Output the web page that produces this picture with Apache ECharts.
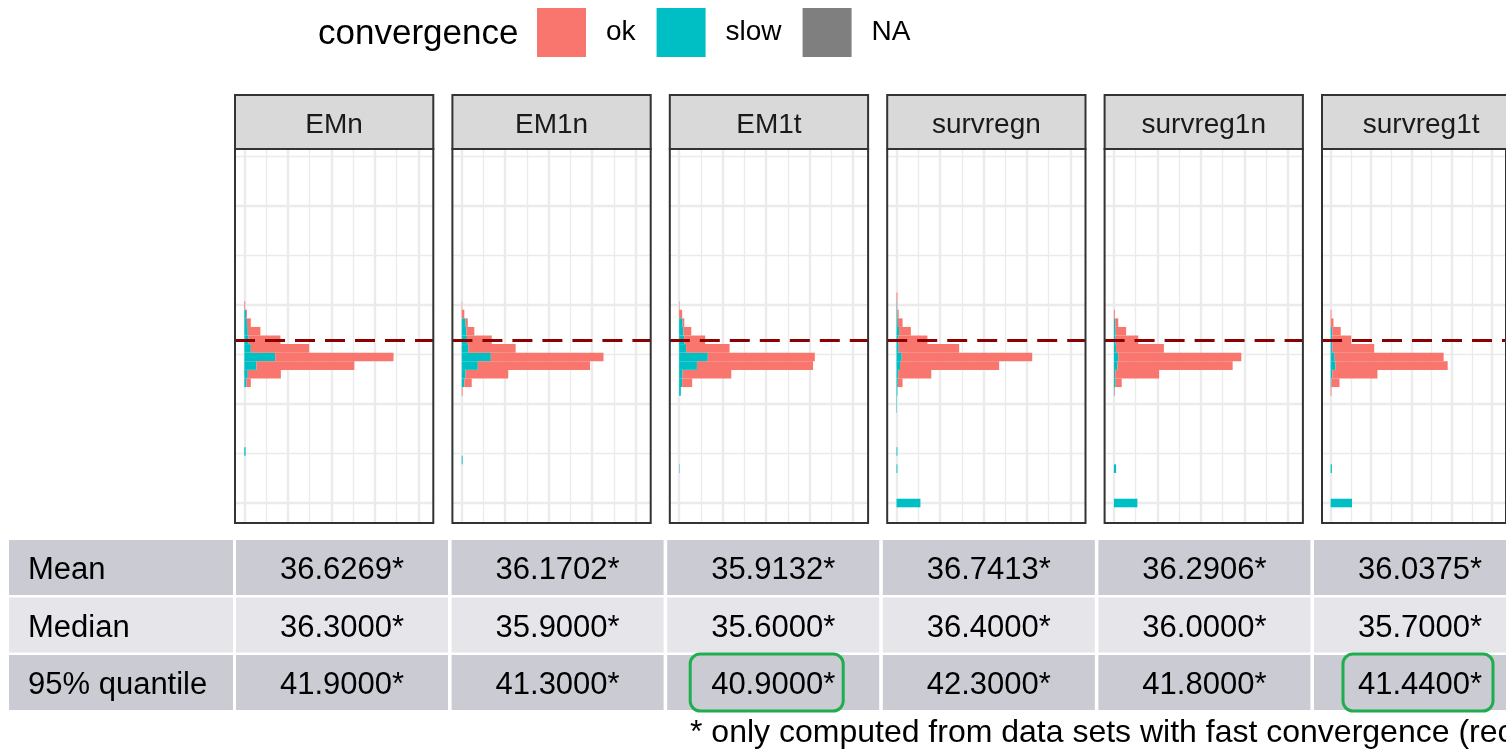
<!DOCTYPE html>
<html>
<head>
<meta charset="utf-8">
<script src="https://cdn.jsdelivr.net/npm/echarts@6/dist/echarts.min.js"></script>
<style>
  html, body { margin: 0; padding: 0; background: #ffffff; }
  #chart { width: 1506px; height: 749px; }
</style>
</head>
<body>
<div id="chart"></div>
<script>
// ---- data -------------------------------------------------------------
const panelNames = ['EMn', 'EM1n', 'EM1t', 'survregn', 'survreg1n', 'survreg1t'];

// histogram bins of the estimate (mid-points), all bins share one width
const binWidth = 2.17;
const binMids = [0.00, 8.68, 10.85, 13.02, 23.87, 26.04, 28.21, 30.38, 32.55,
                 34.72, 36.89, 39.06, 41.23, 43.40, 45.57, 47.74, 49.91, 52.08];

// number of data sets per bin (aligned with binMids)
const okEMn         = [0, 0, 0, 0, 0, 0, 0, 10, 76, 225, 272, 134, 73, 29, 9, 2, 2, 0];
const slowEMn       = [0, 0, 0, 3, 0, 0, 0, 5, 8, 28, 71, 15, 10, 8, 6, 4, 0, 0];
const okEM1n        = [0, 0, 0, 0, 0, 0, 2, 17, 98, 258, 259, 109, 57, 18, 5, 6, 1, 0];
const slowEM1n      = [0, 0, 2, 0, 0, 0, 0, 6, 9, 37, 67, 15, 12, 11, 9, 0, 0, 0];
const okEM1t        = [0, 0, 0, 0, 0, 0, 0, 23, 112, 267, 246, 100, 48, 18, 4, 7, 1, 0];
const slowEM1t      = [0, 1, 0, 0, 0, 0, 4, 7, 8, 41, 66, 16, 12, 10, 8, 0, 0, 0];
const okSurvregn    = [0, 0, 0, 0, 0, 0, 0, 11, 76, 228, 300, 139, 67, 27, 11, 3, 1, 2];
const slowSurvregn  = [55, 2, 0, 2, 1, 1, 2, 3, 4, 8, 12, 5, 4, 6, 3, 2, 1, 0];
const okSurvreg1n   = [0, 0, 0, 0, 0, 0, 1, 14, 101, 265, 283, 110, 52, 24, 7, 2, 0, 0];
const slowSurvreg1n = [54, 5, 0, 0, 0, 0, 1, 4, 3, 8, 10, 5, 4, 4, 3, 0, 0, 0];
const okSurvreg1t   = [0, 0, 0, 0, 0, 0, 2, 20, 112, 278, 270, 104, 47, 21, 7, 2, 0, 0];
const slowSurvreg1t = [53, 3, 0, 0, 0, 0, 0, 2, 4, 12, 10, 4, 4, 4, 0, 0, 0, 0];

// reference value drawn as the dashed line
const trueValue = 41.1;

// panel grid breaks
const xMajorBreaks = [0, 100, 200, 300, 400];
const xMinorBreaks = [50, 150, 250, 350];
const yMajorBreaks = [0, 25, 50, 75];
const yMinorBreaks = [12.5, 37.5, 62.5, 87.5];

// summary table
const rowLabels  = ['Mean', 'Median', '95% quantile'];
const meanVals   = ['36.6269*', '36.1702*', '35.9132*', '36.7413*', '36.2906*', '36.0375*'];
const medianVals = ['36.3000*', '35.9000*', '35.6000*', '36.4000*', '36.0000*', '35.7000*'];
const q95Vals    = ['41.9000*', '41.3000*', '40.9000*', '42.3000*', '41.8000*', '41.4400*'];
const footnote   = '* only computed from data sets with fast convergence (rec';

// ---- layout / style -----------------------------------------------------
const okCounts   = [okEMn, okEM1n, okEM1t, okSurvregn, okSurvreg1n, okSurvreg1t];
const slowCounts = [slowEMn, slowEM1n, slowEM1t, slowSurvregn, slowSurvreg1n, slowSurvreg1t];
const tableRows  = [meanVals, medianVals, q95Vals];

const FONT = "'Liberation Sans', Arial, Helvetica, sans-serif";
const COL_OK = '#F8766D', COL_SLOW = '#00BFC4', COL_NA = '#7F7F7F';
const GRIDLINE = '#EBEBEB', BORDER = '#333333';

const panel = { left0: 235, step: 217.4, width: 198.3, top: 149, height: 374,
                stripTop: 95, stripHeight: 54 };
const xRange = [-21.4, 434.5];
const yRange = [-5.05, 89.44];

const table = { labelLeft: 9, labelWidth: 224, colLeft0: 236, colStep: 215.6, colWidth: 212,
                rowTops: [540, 597.5, 655], rowHeight: 55, textShift: 3,
                rowFill: ['#CACBD3', '#E5E5EA', '#CACBD3'] };
const highlightBoxes = [ { row: 2, col: 2, dx: 23, w: 153 }, { row: 2, col: 5, dx: 29, w: 150 } ];

// ---- build ---------------------------------------------------------------
function renderBin(params, api) {
  const mid = api.value(0), x0 = api.value(1), x1 = api.value(2);
  const a = api.coord([x0, mid + binWidth / 2]);
  const b = api.coord([x1, mid - binWidth / 2]);
  return {
    type: 'rect',
    shape: { x: a[0], y: a[1], width: b[0] - a[0], height: b[1] - a[1] },
    style: { fill: api.visual('color') }
  };
}

const grids = [], xAxes = [], yAxes = [], series = [], graphics = [];

const gridLineData = []
  .concat(xMajorBreaks.map(v => ({ xAxis: v, lineStyle: { width: 2.4 } })))
  .concat(xMinorBreaks.map(v => ({ xAxis: v, lineStyle: { width: 1.3 } })))
  .concat(yMajorBreaks.map(v => ({ yAxis: v, lineStyle: { width: 2.4 } })))
  .concat(yMinorBreaks.map(v => ({ yAxis: v, lineStyle: { width: 1.3 } })));

panelNames.forEach((name, i) => {
  const left = panel.left0 + i * panel.step;
  grids.push({ left: left, top: panel.top, width: panel.width, height: panel.height,
               show: true, backgroundColor: 'transparent', borderColor: BORDER,
               borderWidth: 2, z: 10 });
  xAxes.push({ type: 'value', gridIndex: i, min: xRange[0], max: xRange[1], show: false });
  yAxes.push({ type: 'value', gridIndex: i, min: yRange[0], max: yRange[1], show: false });

  const slowData = [], okData = [];
  binMids.forEach((m, k) => {
    const s = slowCounts[i][k], o = okCounts[i][k];
    if (s > 0) slowData.push([m, 0, s]);
    if (o > 0) okData.push([m, s, s + o]);
  });

  series.push({
    type: 'custom', name: 'slow', xAxisIndex: i, yAxisIndex: i, z: 2,
    itemStyle: { color: COL_SLOW }, renderItem: renderBin,
    encode: { x: [1, 2], y: 0 }, data: slowData, silent: true,
    markLine: { z: 1, silent: true, symbol: 'none', animation: false,
                label: { show: false },
                lineStyle: { color: GRIDLINE, type: 'solid' },
                emphasis: { disabled: true },
                data: gridLineData }
  });
  series.push({
    type: 'custom', name: 'ok', xAxisIndex: i, yAxisIndex: i, z: 2,
    itemStyle: { color: COL_OK }, renderItem: renderBin,
    encode: { x: [1, 2], y: 0 }, data: okData, silent: true,
    markLine: { z: 5, silent: true, symbol: 'none', animation: false,
                label: { show: false },
                emphasis: { disabled: true },
                lineStyle: { color: '#8B0000', width: 3, type: [20, 10] },
                data: [{ yAxis: trueValue }] }
  });

  // facet strip
  graphics.push({ type: 'rect', z: 20,
    shape: { x: left, y: panel.stripTop, width: panel.width, height: panel.stripHeight },
    style: { fill: '#D9D9D9', stroke: BORDER, lineWidth: 2 } });
  graphics.push({ type: 'text', z: 21,
    x: left + panel.width / 2, y: panel.stripTop + panel.stripHeight / 2 + 3,
    style: { text: name, fill: '#1A1A1A', font: '28px ' + FONT,
             textAlign: 'center', textVerticalAlign: 'middle' } });
});

// empty series so the legend can show the NA key
series.push({ type: 'custom', name: 'NA', xAxisIndex: 0, yAxisIndex: 0,
              itemStyle: { color: COL_NA }, renderItem: renderBin, data: [] });

// legend title
graphics.push({ type: 'text', z: 21, x: 318, y: 34,
  style: { text: 'convergence', fill: '#000', font: '35px ' + FONT,
           textAlign: 'left', textVerticalAlign: 'middle' } });

// summary table
rowLabels.forEach((label, r) => {
  const top = table.rowTops[r];
  const cy = top + table.rowHeight / 2 + table.textShift;
  graphics.push({ type: 'rect', z: 20,
    shape: { x: table.labelLeft, y: top, width: table.labelWidth, height: table.rowHeight },
    style: { fill: table.rowFill[r] } });
  graphics.push({ type: 'text', z: 21, x: 28, y: cy,
    style: { text: label, fill: '#000', font: '31px ' + FONT,
             textAlign: 'left', textVerticalAlign: 'middle' } });
  tableRows[r].forEach((val, c) => {
    const x = table.colLeft0 + c * table.colStep;
    graphics.push({ type: 'rect', z: 20,
      shape: { x: x, y: top, width: table.colWidth, height: table.rowHeight },
      style: { fill: table.rowFill[r] } });
    graphics.push({ type: 'text', z: 21, x: x + table.colWidth / 2, y: cy,
      style: { text: val, fill: '#000', font: '31px ' + FONT,
               textAlign: 'center', textVerticalAlign: 'middle' } });
  });
});
highlightBoxes.forEach(h => {
  graphics.push({ type: 'rect', z: 22,
    shape: { x: table.colLeft0 + h.col * table.colStep + h.dx, y: table.rowTops[h.row] - 1,
             width: h.w, height: table.rowHeight + 2, r: 10 },
    style: { fill: 'none', stroke: '#1FAE4F', lineWidth: 3 } });
});
graphics.push({ type: 'text', z: 21, x: 690, y: 733,
  style: { text: footnote, fill: '#000', font: '32px ' + FONT,
           textAlign: 'left', textVerticalAlign: 'middle' } });

const chart = echarts.init(document.getElementById('chart'), null, { renderer: 'canvas' });
chart.setOption({
  animation: false,
  backgroundColor: '#ffffff',
  legend: {
    left: 537, top: 8, padding: 0, itemWidth: 49, itemHeight: 49, itemGap: 21,
    icon: 'rect', selectedMode: false,
    data: ['ok', 'slow', 'NA'],
    textStyle: { fontSize: 28, color: '#000', fontFamily: FONT, padding: [4, 0, 0, 15] }
  },
  grid: grids,
  xAxis: xAxes,
  yAxis: yAxes,
  series: series,
  graphic: graphics
});
</script>
</body>
</html>
